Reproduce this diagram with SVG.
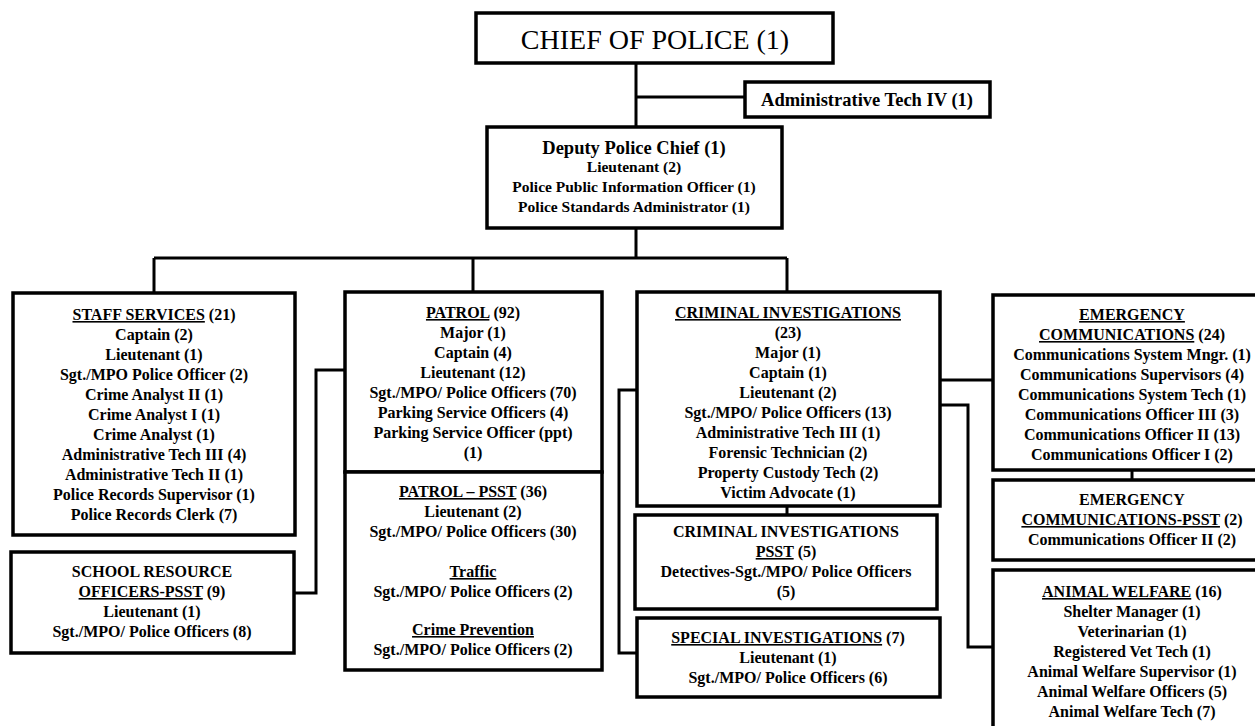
<svg xmlns="http://www.w3.org/2000/svg" width="1255" height="726" viewBox="0 0 1255 726">
<style>
.box{fill:#fff;stroke:#000;stroke-width:3.5}
.con{fill:none;stroke:#000;stroke-width:3}
text{font-family:"Liberation Serif","Times New Roman",serif;font-weight:bold;font-size:16px;text-anchor:middle;fill:#000}
.u{text-decoration:underline}
.big{font-size:28px;font-weight:normal}
.mid{font-size:18.5px}
.sm{font-size:15.5px}
</style>
<rect width="1255" height="726" fill="#fff"/>
<g id="connectors">
<path class="con" d="M636 63V127M636 97H745M636 228V258M154 258H787M154 258V293M473 258V292M787 258V292"/>
<path class="con" d="M294 593H316V370H345"/>
<path class="con" d="M473 458V472"/>
<path class="con" d="M637 390H619V653H637"/>
<path class="con" d="M787 488V515"/>
<path class="con" d="M940 380H993"/>
<path class="con" d="M940 405H968V647H993"/>
<path class="con" d="M1132 470V480"/>
</g>
<g id="chief">
<rect class="box" x="476" y="13" width="357" height="50"/>
<text class="big" x="655" y="49">CHIEF OF POLICE (1)</text>
</g>
<g id="admin-tech-iv">
<rect class="box" x="745" y="82" width="245" height="35"/>
<text class="mid" x="867" y="106">Administrative Tech IV (1)</text>
</g>
<g id="deputy">
<rect class="box" x="487" y="127" width="295" height="101"/>
<text class="mid" x="634" y="154">Deputy Police Chief (1)</text>
<text class="sm" x="634" y="172">Lieutenant (2)</text>
<text class="sm" x="634" y="192">Police Public Information Officer (1)</text>
<text class="sm" x="634" y="212">Police Standards Administrator (1)</text>
</g>
<g id="staff-services">
<rect class="box" x="13" y="293" width="282" height="242"/>
<text x="154" y="320"><tspan class="u">STAFF SERVICES</tspan> (21)</text>
<text x="154" y="340">Captain (2)</text>
<text x="154" y="360">Lieutenant (1)</text>
<text x="154" y="380">Sgt./MPO Police Officer (2)</text>
<text x="154" y="400">Crime Analyst II (1)</text>
<text x="154" y="420">Crime Analyst I (1)</text>
<text x="154" y="440">Crime Analyst (1)</text>
<text x="154" y="460">Administrative Tech III (4)</text>
<text x="154" y="480">Administrative Tech II (1)</text>
<text x="154" y="500">Police Records Supervisor (1)</text>
<text x="154" y="520">Police Records Clerk (7)</text>
</g>
<g id="school-resource">
<rect class="box" x="11" y="552" width="283" height="101"/>
<text x="152" y="577">SCHOOL RESOURCE</text>
<text x="152" y="597"><tspan class="u">OFFICERS-PSST</tspan> (9)</text>
<text x="152" y="617">Lieutenant (1)</text>
<text x="152" y="637">Sgt./MPO/ Police Officers (8)</text>
</g>
<g id="patrol">
<rect class="box" x="345" y="292" width="257" height="180"/>
<text x="473" y="318"><tspan class="u">PATROL</tspan> (92)</text>
<text x="473" y="338">Major (1)</text>
<text x="473" y="358">Captain (4)</text>
<text x="473" y="378">Lieutenant (12)</text>
<text x="473" y="398">Sgt./MPO/ Police Officers (70)</text>
<text x="473" y="418">Parking Service Officers (4)</text>
<text x="473" y="438">Parking Service Officer (ppt)</text>
<text x="473" y="458">(1)</text>
</g>
<g id="patrol-psst">
<rect class="box" x="345" y="472" width="257" height="198"/>
<text x="473" y="497"><tspan class="u">PATROL – PSST</tspan> (36)</text>
<text x="473" y="517">Lieutenant (2)</text>
<text x="473" y="537">Sgt./MPO/ Police Officers (30)</text>
<text x="473" y="577"><tspan class="u">Traffic</tspan></text>
<text x="473" y="597">Sgt./MPO/ Police Officers (2)</text>
<text x="473" y="635"><tspan class="u">Crime Prevention</tspan></text>
<text x="473" y="655">Sgt./MPO/ Police Officers (2)</text>
</g>
<g id="criminal-investigations">
<rect class="box" x="637" y="292" width="303" height="214"/>
<text x="788" y="318"><tspan class="u">CRIMINAL INVESTIGATIONS</tspan></text>
<text x="788" y="338">(23)</text>
<text x="788" y="358">Major (1)</text>
<text x="788" y="378">Captain (1)</text>
<text x="788" y="398">Lieutenant (2)</text>
<text x="788" y="418">Sgt./MPO/ Police Officers (13)</text>
<text x="788" y="438">Administrative Tech III (1)</text>
<text x="788" y="458">Forensic Technician (2)</text>
<text x="788" y="478">Property Custody Tech (2)</text>
<text x="788" y="498">Victim Advocate (1)</text>
</g>
<g id="ci-psst">
<rect class="box" x="635" y="515" width="302" height="94"/>
<text x="786" y="537">CRIMINAL INVESTIGATIONS</text>
<text x="786" y="557"><tspan class="u">PSST</tspan> (5)</text>
<text x="786" y="577">Detectives-Sgt./MPO/ Police Officers</text>
<text x="786" y="597">(5)</text>
</g>
<g id="special-investigations">
<rect class="box" x="637" y="618" width="303" height="79"/>
<text x="788" y="643"><tspan class="u">SPECIAL INVESTIGATIONS</tspan> (7)</text>
<text x="788" y="663">Lieutenant (1)</text>
<text x="788" y="683">Sgt./MPO/ Police Officers (6)</text>
</g>
<g id="emergency-communications">
<rect class="box" x="993" y="295" width="280" height="175"/>
<text x="1132" y="320"><tspan class="u">EMERGENCY</tspan></text>
<text x="1132" y="340"><tspan class="u">COMMUNICATIONS</tspan> (24)</text>
<text x="1132" y="360">Communications System Mngr. (1)</text>
<text x="1132" y="380">Communications Supervisors (4)</text>
<text x="1132" y="400">Communications System Tech (1)</text>
<text x="1132" y="420">Communications Officer III (3)</text>
<text x="1132" y="440">Communications Officer II (13)</text>
<text x="1132" y="460">Communications Officer I (2)</text>
</g>
<g id="ec-psst">
<rect class="box" x="993" y="480" width="280" height="80"/>
<text x="1132" y="505">EMERGENCY</text>
<text x="1132" y="525"><tspan class="u">COMMUNICATIONS-PSST</tspan> (2)</text>
<text x="1132" y="545">Communications Officer II (2)</text>
</g>
<g id="animal-welfare">
<rect class="box" x="993" y="570" width="280" height="180"/>
<text x="1132" y="597"><tspan class="u">ANIMAL WELFARE</tspan> (16)</text>
<text x="1132" y="617">Shelter Manager (1)</text>
<text x="1132" y="637">Veterinarian (1)</text>
<text x="1132" y="657">Registered Vet Tech (1)</text>
<text x="1132" y="677">Animal Welfare Supervisor (1)</text>
<text x="1132" y="697">Animal Welfare Officers (5)</text>
<text x="1132" y="717">Animal Welfare Tech (7)</text>
</g>
</svg>
